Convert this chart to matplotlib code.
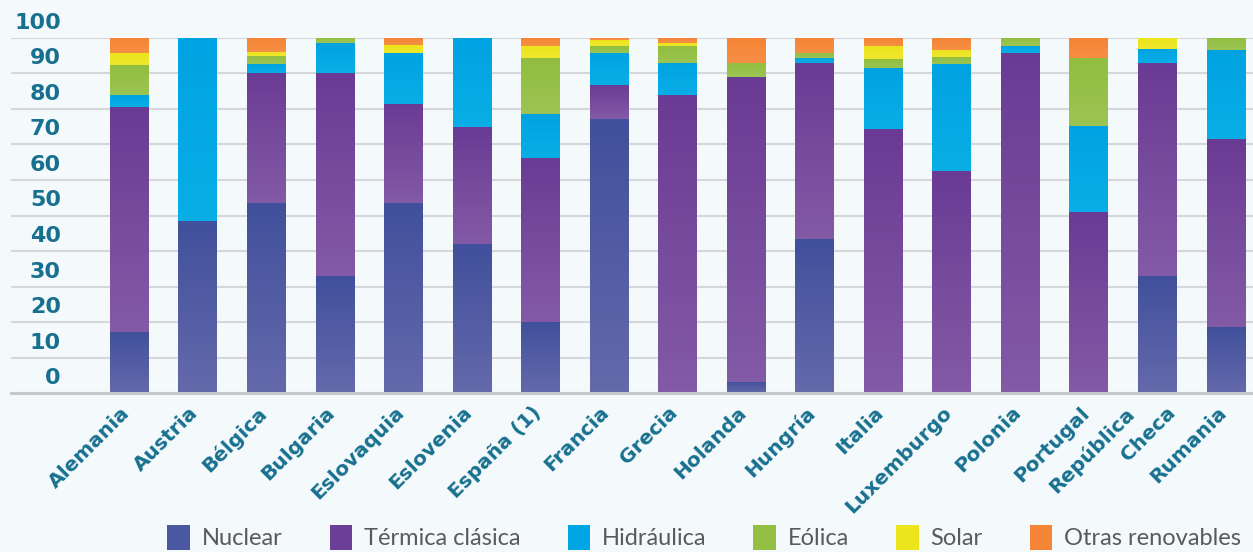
import matplotlib
matplotlib.use('Agg')
import matplotlib.pyplot as plt
import numpy as np
from matplotlib.transforms import ScaledTranslation, blended_transform_factory
from matplotlib.patches import Patch
from matplotlib.colors import LinearSegmentedColormap

countries = ['Alemania', 'Austria', 'Bélgica', 'Bulgaria', 'Eslovaquia', 'Eslovenia',
             'España (1)', 'Francia', 'Grecia', 'Holanda', 'Hungría', 'Italia',
             'Luxemburgo', 'Polonia', 'Portugal', 'República', 'Rumania']
nuclear    = [17.3, 48.5, 53.6, 33.1, 53.6, 41.9, 20.0, 77.1, 0.0, 3.3, 43.5, 0.0, 0.0, 0.0, 0.0, 33.1, 18.6]
termica    = [63.1, 0.0, 36.6, 57.1, 27.7, 33.0, 46.2, 9.6, 83.9, 85.6, 49.5, 74.2, 62.5, 95.6, 51.1, 59.9, 53.0]
hidraulica = [3.5, 51.5, 2.3, 8.2, 14.5, 25.1, 12.3, 8.9, 9.1, 0.0, 1.2, 17.4, 30.0, 2.1, 24.2, 3.8, 24.9]
eolica     = [8.4, 0.0, 2.4, 1.6, 0.0, 0.0, 15.7, 2.1, 4.7, 4.0, 1.6, 2.3, 2.2, 2.3, 18.9, 0.0, 3.5]
solar      = [3.3, 0.0, 1.0, 0.0, 2.1, 0.0, 3.6, 1.6, 0.7, 0.0, 0.0, 3.9, 1.8, 0.0, 0.0, 3.2, 0.0]
otras      = [4.4, 0.0, 4.1, 0.0, 2.1, 0.0, 2.2, 0.7, 1.6, 7.1, 4.2, 2.2, 3.5, 0.0, 5.8, 0.0, 0.0]
yticks = [0, 10, 20, 30, 40, 50, 60, 70, 80, 90, 100]

series = [
    ('Nuclear', nuclear, '#4a57a1', '#41509c', '#6469ab'),
    ('Térmica clásica', termica, '#6c3f96', '#6a3b94', '#835aa6'),
    ('Hidráulica', hidraulica, '#00a5e3', '#00a3e1', '#0aaee6'),
    ('Eólica', eolica, '#93bf42', '#91be3f', '#9cc453'),
    ('Solar', solar, '#ece51c', '#ece41a', '#efe72e'),
    ('Otras renovables', otras, '#f58637', '#f58434', '#f68f45'),
]

BG = '#f4f9fc'
TEAL = '#17708f'

fig = plt.figure(figsize=(12.53, 5.52), dpi=100, facecolor=BG)
ax = fig.add_axes([11/1253, 1 - 393.3/552, 1 - 11/1253, (393.3 - 37.7)/552])
ax.set_facecolor(BG)

x = np.arange(len(countries))
bottom = np.zeros(len(countries))
width = 0.555
for name, vals, col, top_c, bot_c in series:
    vals = np.array(vals)
    bars = ax.bar(x, vals, width, bottom=bottom, color=col, linewidth=0, zorder=2)
    cmap = LinearSegmentedColormap.from_list('g', [bot_c, top_c])
    for b in bars:
        h = b.get_height()
        if h <= 0:
            continue
        bx, by, bw = b.get_x(), b.get_y(), b.get_width()
        im = ax.imshow(np.linspace(0, 1, 64).reshape(-1, 1), cmap=cmap,
                       extent=[bx, bx + bw, by, by + h], origin='lower',
                       aspect='auto', zorder=2.1, interpolation='bilinear')
        im.set_clip_path(b)
    bottom += vals

ax.set_xlim(-1.72, 16.4)
ax.set_ylim(0, 100)

# grid
ax.set_yticks(yticks)
ax.yaxis.grid(True, color='#d6d7db', linewidth=1.5, zorder=0)
ax.set_axisbelow(True)
for s in ['top', 'right', 'left']:
    ax.spines[s].set_visible(False)
ax.spines['bottom'].set_color('#c6c7cb')
ax.spines['bottom'].set_linewidth(2.2)
ax.spines['bottom'].set_zorder(3)

ax.tick_params(axis='y', length=0, pad=-36, labelsize=16, labelcolor=TEAL)
ax.set_yticklabels([str(t) for t in yticks], fontweight='bold', ha='right')
for lab in ax.get_yticklabels():
    lab.set_transform(lab.get_transform() + ScaledTranslation(0, 17/100, fig.dpi_scale_trans))

ax.set_xticks(x)
ax.set_xticklabels(countries, rotation=45, ha='right', va='top', rotation_mode='anchor',
                   fontweight='bold', fontsize=14.5, color=TEAL)
ax.tick_params(axis='x', length=0, pad=7)
for i, lab in enumerate(ax.get_xticklabels()):
    dx = -9 if countries[i] != 'República' else -33
    lab.set_transform(lab.get_transform() + ScaledTranslation(dx/100, 0, fig.dpi_scale_trans))

trans = blended_transform_factory(ax.transData, ax.transAxes)
ax.text(15, 0, 'Checa', transform=trans + ScaledTranslation(9/100, -10/100, fig.dpi_scale_trans),
        rotation=45, ha='right', va='top', rotation_mode='anchor',
        fontweight='bold', fontsize=14.5, color=TEAL)

handles = [Patch(facecolor=c, edgecolor='none', label=n) for n, _, c, _, _ in series]
leg = fig.legend(handles=handles, loc='center', bbox_to_anchor=(0.562, 0.027), ncol=6,
                 frameon=False, prop={'family': 'Lato', 'size': 17},
                 handlelength=0.95, handleheight=1.25, handletextpad=0.5,
                 columnspacing=2.0, borderaxespad=0, borderpad=0)
for t in leg.get_texts():
    t.set_color('#5a5a5e')

fig.savefig('out.png', dpi=100, facecolor=BG)
